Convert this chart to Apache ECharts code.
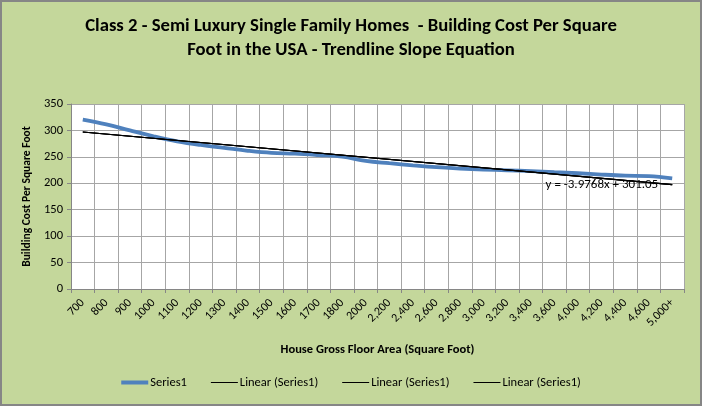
<!DOCTYPE html>
<html>
<head>
<meta charset="utf-8">
<script src="https://cdn.jsdelivr.net/npm/echarts@6/dist/echarts.min.js"></script>
<style>
  html, body { margin: 0; padding: 0; background: #c4d79b; }
  #chart { width: 702px; height: 406px; box-sizing: border-box; border: 2px solid #868686; }
</style>
</head>
<body>
<div id="chart"></div>
<script>
// house size buckets (sq ft)
const categories = ['700', '800', '900', '1000', '1100', '1200', '1300', '1400', '1500',
  '1600', '1700', '1800', '2000', '2,200', '2,400', '2,600', '2,800', '3,000', '3,200',
  '3,400', '3,600', '4,000', '4,200', '4,400', '4,600', '5,000+'];

// cost per square foot
const costPerSqFt = [320.5, 311.5, 300, 289, 279.5, 272.5, 267, 261.5, 257.5,
  256, 253.5, 250.5, 242.5, 238, 234, 230.5, 228, 226, 224.5,
  223, 221, 219, 216.5, 214.5, 213.5, 209.5];

// trendline end values, from y = -3.9768x + 301.05 at x = 1 and x = 26
const trendStart = 297.07;
const trendEnd = 197.65;
const trendLabel = 'y = -3.9768x + 301.05';

const yTicks = { min: 0, max: 350, interval: 50 };

const font = 'Carlito, "Liberation Sans Narrow", "Open Sans", sans-serif';
const blue = '#4f81bd';

const chart = echarts.init(document.getElementById('chart'));

const trendData = [
  [categories[0], trendStart],
  [categories[categories.length - 1], trendEnd]
];

function trendSeries(name) {
  return {
    name: name,
    type: 'line',
    data: trendData,
    symbol: 'none',
    silent: true,
    lineStyle: { color: '#000', width: 1.2 },
    itemStyle: { color: '#000' },
    z: 3
  };
}

const thickIcon = 'path://M0,0H27V4H0Z';
const thinIcon = 'path://M0,0H27V1H0Z';

chart.setOption({
  backgroundColor: '#c4d79b',
  animation: false,
  title: {
    text: 'Class 2 - Semi Luxury Single Family Homes  - Building Cost Per Square\nFoot in the USA - Trendline Slope Equation',
    left: 'center',
    top: 7,
    textStyle: { fontFamily: font, fontSize: 18.7, fontWeight: 'bold', color: '#000', lineHeight: 24 }
  },
  grid: {
    left: 69, right: 16, top: 102, bottom: 115,
    show: true, backgroundColor: '#fff', borderWidth: 0
  },
  legend: {
    bottom: 10,
    left: 'center',
    itemWidth: 27,
    itemHeight: 10,
    itemGap: 24,
    data: [
      { name: 'Series1', icon: thickIcon },
      { name: 'Linear1', icon: thinIcon },
      { name: 'Linear2', icon: thinIcon },
      { name: 'Linear3', icon: thinIcon }
    ],
    formatter: function (name) { return name === 'Series1' ? 'Series1' : 'Linear (Series1)'; },
    textStyle: { fontFamily: font, fontSize: 12.5, color: '#000', padding: [0, 0, 0, -3] }
  },
  xAxis: {
    type: 'category',
    data: categories,
    boundaryGap: true,
    name: 'House Gross Floor Area (Square Foot)',
    nameLocation: 'middle',
    nameGap: 54,
    nameTextStyle: { fontFamily: font, fontSize: 12.5, fontWeight: 'bold', color: '#000' },
    axisLine: { lineStyle: { color: '#868686' } },
    axisTick: { show: true, interval: 0, length: 4, lineStyle: { color: '#868686' } },
    axisLabel: { interval: 0, rotate: 45, fontFamily: font, fontSize: 12, color: '#000', margin: 12 },
    splitLine: { show: true, interval: 0, lineStyle: { color: '#a6a6a6' } }
  },
  yAxis: {
    type: 'value',
    min: yTicks.min,
    max: yTicks.max,
    interval: yTicks.interval,
    name: 'Building Cost Per Square Foot',
    nameLocation: 'middle',
    nameGap: 34,
    nameTextStyle: { fontFamily: font, fontSize: 11.5, fontWeight: 'bold', color: '#000' },
    axisLine: { show: true, lineStyle: { color: '#868686' } },
    axisTick: { show: true, length: 4, lineStyle: { color: '#868686' } },
    axisLabel: { fontFamily: font, fontSize: 12.5, color: '#000', margin: 8 },
    splitLine: { show: true, lineStyle: { color: '#a6a6a6' } }
  },
  series: [
    {
      name: 'Series1',
      type: 'line',
      data: costPerSqFt,
      smooth: 0.4,
      symbol: 'none',
      lineStyle: { color: blue, width: 3.8 },
      itemStyle: { color: blue },
      z: 2
    },
    Object.assign(trendSeries('Linear1'), {
      markPoint: {
        symbol: 'circle',
        symbolSize: 0,
        data: [{
          coord: [categories[categories.length - 1], trendEnd],
          label: {
            show: true,
            formatter: trendLabel,
            position: 'left',
            offset: [-9, 0],
            fontFamily: font,
            fontSize: 13,
            color: '#000'
          }
        }]
      }
    }),
    trendSeries('Linear2'),
    trendSeries('Linear3')
  ]
});
</script>
</body>
</html>
